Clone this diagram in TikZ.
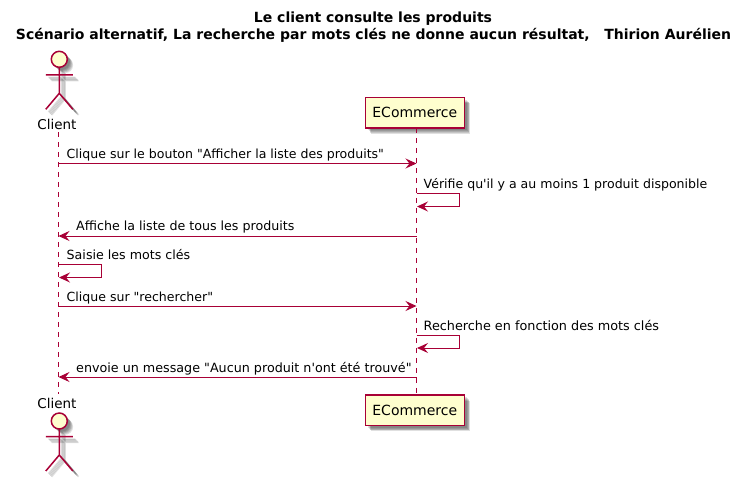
\documentclass[tikz,border=0pt]{standalone}
\usepackage{fontspec}
\newfontfamily\umlfont{DejaVu Sans}
\usetikzlibrary{arrows.meta}
\definecolor{umlline}{HTML}{A80036}
\definecolor{umlfill}{HTML}{FEFECE}
\newcommand{\softshadow}[1]{%
  \foreach \d in {2.6,3.4,4.2,5.0,5.8}{\begin{scope}[xshift=\d pt,yshift=-\d pt,opacity=0.12]#1\end{scope}}}
\newcommand{\umlactor}[1]{%
  \begin{scope}[shift={(59.3,#1)}]
    \softshadow{\fill[black] (0,0) circle (8);
      \draw[black,line width=1.5pt] (0,8)--(0,34) (-13.5,15.5)--(13.5,15.5) (0,34)--(-13.5,50) (0,34)--(13.5,50);}
    \draw[actorline,fill=umlfill] (0,0) circle (8);
    \draw[actorline] (0,8)--(0,34) (-13.5,15.5)--(13.5,15.5) (0,34)--(-13.5,50) (0,34)--(13.5,50);
  \end{scope}}
\newcommand{\umlbox}[1]{%
  \softshadow{\fill[black] (365.3,#1) rectangle +(99,30.5);}
  }
\tikzset{
  x=1pt,y=-1pt,
  actorline/.style={draw=umlline,line width=1.5pt},
  participantbox/.style={draw=umlline,fill=umlfill,line width=1.5pt,minimum width=99pt,minimum height=30.5pt,inner sep=0pt,text=black,font=\umlfont\fontsize{14}{16}\selectfont},
  lifeline/.style={draw=umlline,line width=0.9pt,dash pattern=on 5pt off 5pt},
  msg/.style={draw=umlline,line width=1pt,-{Stealth[length=11pt,width=10pt,inset=4pt]}},
  msgtext/.style={anchor=base west,inner sep=0pt,font=\umlfont\fontsize{#1}{15}\selectfont,text=black},
  msgtext/.default=12.65,
  actorname/.style={anchor=base,inner sep=0pt,font=\umlfont\fontsize{13.5}{15}\selectfont,text=black},
  titletext/.style={anchor=base,inner sep=0pt,font=\umlfont\fontsize{14}{16}\selectfont\bfseries,text=black},
}
\begin{document}
\begin{tikzpicture}
\useasboundingbox (0,0) rectangle (743,482);
\node[titletext] (t1) at (373,22) {Le client consulte les produits};
\node[titletext] (t2) at (373.5,39) {Scénario alternatif, La recherche par mots clés ne donne aucun résultat,\ \ \ Thirion Aurélien};
% lifelines
\coordinate (ct) at (58.5,132);
\coordinate (cb) at (58.5,394);
\umlbox{97.3}
\umlbox{394.8}
\node[participantbox] (et) at (414.8,112.5) {ECommerce};
\node[participantbox] (eb) at (414.8,410) {ECommerce};
\coordinate (elt) at (416.5,127.8);
\coordinate (elb) at (416.5,394.2);
\draw[lifeline] (ct) -- (cb);
\draw[lifeline] (elt) -- (elb);
\umlactor{59.3}
\umlactor{421}
\node[actorname] (ca) at (57,129) {Client};
\node[actorname] (cc) at (57,408) {Client};
% message anchors
\coordinate (c1) at (58.5,163.5); \coordinate (e1) at (416.5,163.5);
\coordinate (e2a) at (416.5,193.5); \coordinate (e2b) at (459.5,193.5); \coordinate (e2c) at (459.5,206.5); \coordinate (e2d) at (417,206.5);
\coordinate (c3) at (58.5,236); \coordinate (e3) at (416.5,236);
\coordinate (c4a) at (58.5,264.5); \coordinate (c4b) at (101.5,264.5); \coordinate (c4c) at (101.5,277.5); \coordinate (c4d) at (59,277.5);
\coordinate (c5) at (58.5,306); \coordinate (e5) at (416.5,306);
\coordinate (e6a) at (416.5,335); \coordinate (e6b) at (459.5,335); \coordinate (e6c) at (459.5,348); \coordinate (e6d) at (417,348);
\coordinate (c7) at (58.5,377); \coordinate (e7) at (416.5,377);
\draw[msg] (c1) -- (e1);
\draw[msg] (e2a) -- (e2b) -- (e2c) -- (e2d);
\draw[msg] (e3) -- (c3);
\draw[msg] (c4a) -- (c4b) -- (c4c) -- (c4d);
\draw[msg] (c5) -- (e5);
\draw[msg] (e6a) -- (e6b) -- (e6c) -- (e6d);
\draw[msg] (e7) -- (c7);
\node[msgtext=12.55] (m1) at (66.5,158.5) {Clique sur le bouton "Afficher la liste des produits"};
\node[msgtext=12.55] (m2) at (423.5,188) {Vérifie qu'il y a au moins 1 produit disponible};
\node[msgtext] (m3) at (76,230.5) {Affiche la liste de tous les produits};
\node[msgtext] (m4) at (66.5,259) {Saisie les mots clés};
\node[msgtext=12.55] (m5) at (66.5,301) {Clique sur "rechercher"};
\node[msgtext=12.8] (m6) at (423.5,330) {Recherche en fonction des mots clés};
\node[msgtext=12.72] (m7) at (76,372) {envoie un message "Aucun produit n'ont été trouvé"};
\end{tikzpicture}
\end{document}
